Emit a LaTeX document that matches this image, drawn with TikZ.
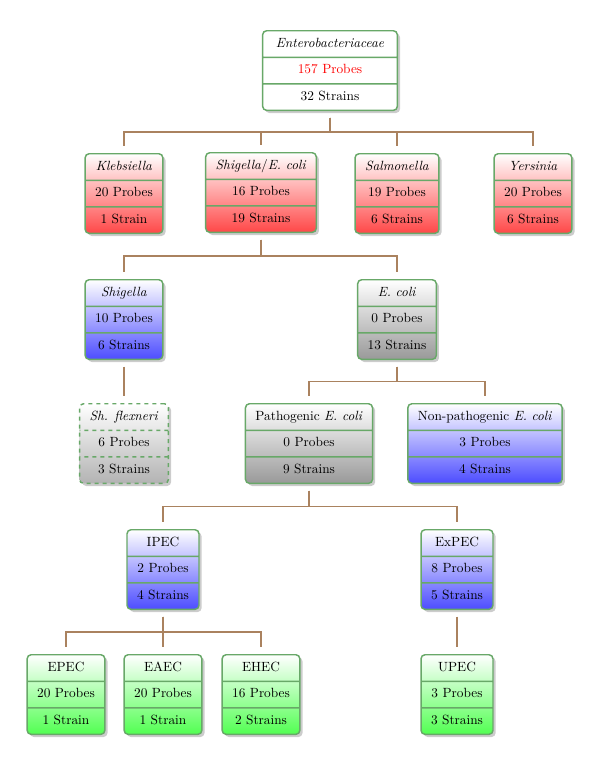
\documentclass[tikz,border=0pt]{standalone}
\usetikzlibrary{shapes.multipart,shadows,calc}
\definecolor{bord}{RGB}{104,168,104}
\definecolor{connc}{RGB}{170,130,95}
\newcommand\boxtext[3]{\strut#1\nodepart{two}\strut#2\nodepart{three}\strut#3}
\newcommand\treelink[2]{\draw[link] (#1.south) -- ($(#1.south)!0.5!(#1.south|-#2.north)$) -| (#2.north);}
\tikzset{
  box/.style={rectangle split, rectangle split parts=3, draw=bord, line width=1.1pt,
    rounded corners=3pt, inner xsep=7.5pt, inner ysep=3.4pt, anchor=north,
    drop shadow={shadow xshift=2pt,shadow yshift=-2pt,opacity=0.4}},
  rootbox/.style={box, fill=white, inner xsep=9.9pt},
  redbox/.style={box, top color=white, bottom color=red!72},
  bluebox/.style={box, top color=white, bottom color=blue!70},
  graybox/.style={box, top color=white, bottom color=black!40},
  lgraybox/.style={box, top color=white, bottom color=black!30, dashed},
  greenbox/.style={box, top color=white, bottom color=green!68},
  link/.style={draw=connc, line width=1pt, shorten <=5pt, shorten >=5pt},
}
\begin{document}
\begin{tikzpicture}[x=0.75pt,y=-0.75pt]
\useasboundingbox (0,0) rectangle (600,764);
\node[rootbox] (root) at (330,30) {\boxtext{\textit{Enterobacteriaceae}}{\textcolor{red}{157 Probes}}{32 Strains}};
\node[redbox] (kleb) at (124,153) {\boxtext{\textit{Klebsiella}}{20 Probes}{1 Strain}};
\node[redbox] (shec) at (261,152) {\boxtext{\rule[-3.5pt]{0pt}{8.5pt}\textit{Shigella}/\textit{E. coli}}{16 Probes}{19 Strains}};
\node[redbox] (salm) at (397,153) {\boxtext{\textit{Salmonella}}{19 Probes}{6 Strains}};
\node[redbox] (yers) at (533,153) {\boxtext{\textit{Yersinia}}{20 Probes}{6 Strains}};
\node[bluebox] (shig) at (124,279) {\boxtext{\textit{Shigella}}{10 Probes}{6 Strains}};
\node[graybox] (ecoli) at (397,279) {\boxtext{\textit{E. coli}}{0 Probes}{13 Strains}};
\node[lgraybox] (flex) at (124,403) {\boxtext{\textit{Sh. flexneri}}{6 Probes}{3 Strains}};
\node[graybox] (path) at (309,403) {\boxtext{Pathogenic \textit{E. coli}}{0 Probes}{9 Strains}};
\node[bluebox] (nonp) at (485,403) {\boxtext{Non-pathogenic \textit{E. coli}}{3 Probes}{4 Strains}};
\node[bluebox] (ipec) at (163,529) {\boxtext{IPEC}{2 Probes}{4 Strains}};
\node[bluebox] (expec) at (457,529) {\boxtext{ExPEC}{8 Probes}{5 Strains}};
\node[greenbox] (epec) at (66,654) {\boxtext{EPEC}{20 Probes}{1 Strain}};
\node[greenbox] (eaec) at (163,654) {\boxtext{EAEC}{20 Probes}{1 Strain}};
\node[greenbox] (ehec) at (261,654) {\boxtext{EHEC}{16 Probes}{2 Strains}};
\node[greenbox] (upec) at (457,654) {\boxtext{UPEC}{3 Probes}{3 Strains}};
\treelink{root}{kleb}
\treelink{root}{shec}
\treelink{root}{salm}
\treelink{root}{yers}
\treelink{shec}{shig}
\treelink{shec}{ecoli}
\treelink{shig}{flex}
\treelink{ecoli}{path}
\treelink{ecoli}{nonp}
\treelink{path}{ipec}
\treelink{path}{expec}
\treelink{ipec}{epec}
\treelink{ipec}{eaec}
\treelink{ipec}{ehec}
\treelink{expec}{upec}
\end{tikzpicture}
\end{document}
